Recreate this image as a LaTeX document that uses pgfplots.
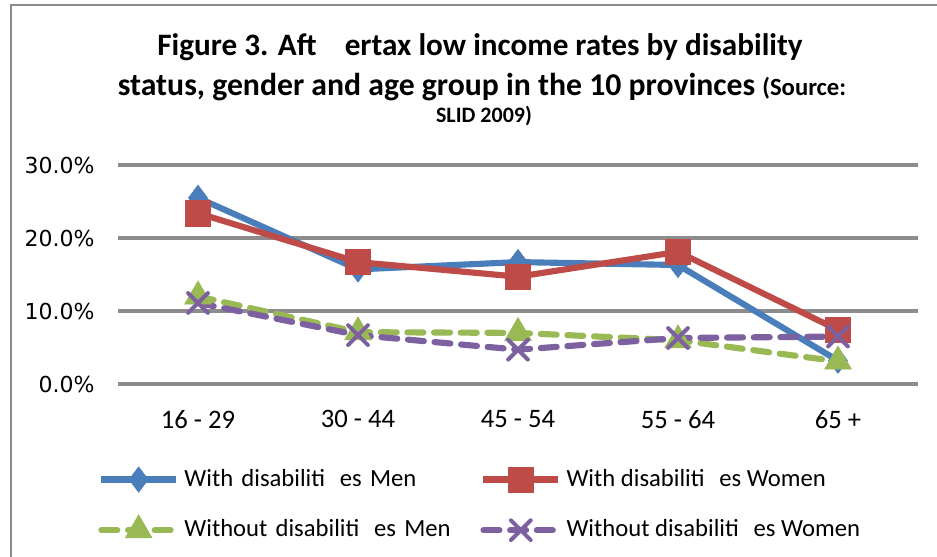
\documentclass[border=0pt]{standalone}
\usepackage{pgfplots}
\pgfplotsset{compat=1.18}
\usepackage{fontspec}
\setmainfont{Carlito}
\newfontfamily\dejavu{DejaVu Sans}
\definecolor{cblue}{RGB}{74,126,187}
\definecolor{cred}{RGB}{190,75,72}
\definecolor{cgreen}{RGB}{152,185,84}
\definecolor{cpurple}{RGB}{125,96,160}
\definecolor{gridgray}{RGB}{140,140,140}

\begin{document}
\begin{tikzpicture}[x=0.75pt,y=0.75pt]
\useasboundingbox (0,0) rectangle (937,556);
\draw[gridgray, line width=2pt] (11,-5) -- (11,551) -- (945,551);
% title, three lines
\node[font=\fontsize{23.4}{26}\selectfont\bfseries] at (480,509)
  {Figure 3. Aft\hspace{0.9em}ertax low income rates by disability};
\node[font=\fontsize{23.8}{26}\selectfont\bfseries] at (482,469)
  {status, gender and age group in the 10 provinces {\fontsize{18.5}{20}\selectfont(Source:}};
\node[font=\fontsize{16.5}{18}\selectfont\bfseries] at (484,440) {SLID 2009)};

\begin{axis}[
    at={(88.5pt,129pt)}, anchor=south west,
    scale only axis,
    width=600pt, height=164.25pt,
    xmin=-0.5, xmax=4.5,
    ymin=0, ymax=30,
    axis line style={draw=none},
    major tick length=0pt,
    xtick={0,1,2,3,4},
    xticklabels={16 - 29, 30 - 44, 45 - 54, 55 - 64, 65 +},
    xticklabel style={font=\fontsize{20}{22}\selectfont, yshift=-16pt},
    ytick={0,10,20,30},
    yticklabels={0.0\%,10.0\%,20.0\%,30.0\%},
    yticklabel style={font=\dejavu\fontsize{16.5}{18}\selectfont, xshift=-14pt},
    ymajorgrids,
    grid style={gridgray, line width=2.6pt},
    legend image code/.code={
      \draw[#1, mark repeat=2, mark phase=2] plot coordinates {(0pt,0pt) (28pt,0pt) (56pt,0pt)};
    },
    legend columns=2,
    legend style={
      at={(-0.03,-0.365)}, anchor=north west,
      draw=none, fill=none,
      font=\fontsize{18.5}{22}\selectfont,
      nodes={inner sep=0pt, text height=14pt, text depth=4pt, align=left},
      row sep=17pt,
      /tikz/every odd column/.append style={column sep=4pt},
    },
    legend cell align=left,
]
\addplot[cblue, line width=4.6pt, mark=diamond*, mark size=9.5pt, mark options={solid, fill=cblue, draw=cblue, line width=0.5pt}]
  coordinates {(0,25.5) (1,15.7) (2,16.7) (3,16.3) (4,3.2)};
\addlegendentry[text width=222pt]{With disabiliti\hspace{0.6em}es Men}
\addplot[cred, line width=4.6pt, mark=square*, mark size=9.5pt, mark options={solid, fill=cred, draw=cred, line width=0.5pt}]
  coordinates {(0,23.4) (1,16.7) (2,14.7) (3,18.1) (4,7.4)};
\addlegendentry{With disabiliti\hspace{0.6em}es Women}
\addplot[cgreen, line width=4.6pt, line cap=round, dash pattern=on 12pt off 8pt, mark=triangle*, mark size=11.5pt, mark options={solid, fill=cgreen, draw=cgreen, line width=0.5pt}]
  coordinates {(0,12.0) (1,7.1) (2,7.0) (3,6.0) (4,3.1)};
\addlegendentry[text width=222pt]{Without disabiliti\hspace{0.6em}es Men}
\addplot[cpurple, line width=4.6pt, line cap=round, dash pattern=on 12pt off 8pt, mark=x, mark size=10.5pt, mark options={solid, draw=cpurple, line width=3pt}]
  coordinates {(0,11.1) (1,6.7) (2,4.7) (3,6.3) (4,6.5)};
\addlegendentry{Without disabiliti\hspace{0.6em}es Women}
\end{axis}
\end{tikzpicture}
\end{document}
